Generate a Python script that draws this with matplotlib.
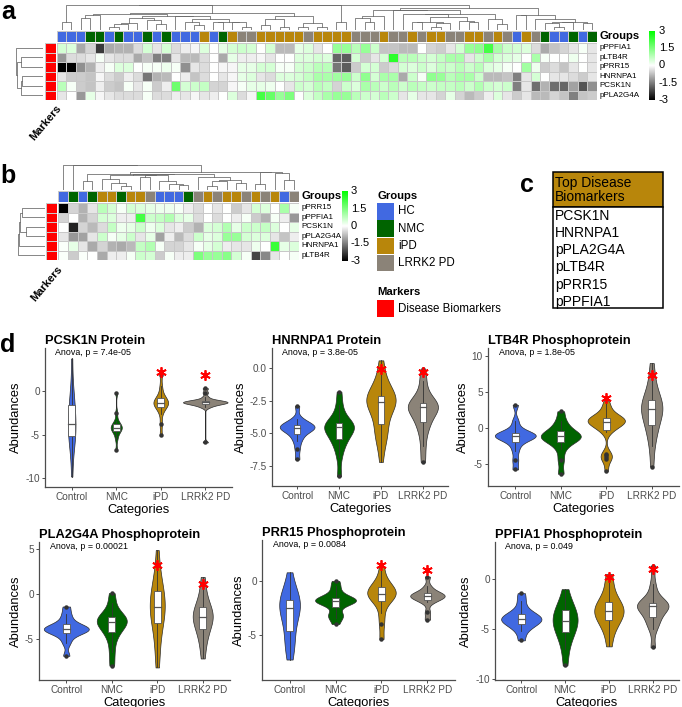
import numpy as np
import matplotlib
matplotlib.use("Agg")
import matplotlib.pyplot as plt
from matplotlib.colors import LinearSegmentedColormap, ListedColormap
from matplotlib.patches import Rectangle

plt.rcParams['font.family'] = ['Liberation Sans', 'DejaVu Sans']

# ---------------- data ----------------
group_names = ["HC", "NMC", "iPD", "LRRK2 PD"]
group_colors = ["#4169E1", "#006400", "#B8860B", "#8B8378"]
group_code = {"B": 0, "G": 1, "A": 2, "R": 3}

# panel a heatmap (57 samples)
groups_a = "BBBGGBGBBGBGBBBABGARRAAAAARAAAARRRARRARAARRAARARBARGBBGBG"
rows_a = ["pPPFIA1", "pLTB4R", "pPRR15", "HNRNPA1", "PCSK1N", "pPLA2G4A"]
a_pPPFIA1 = [0.5, 0.4, -1.0, -0.5, -2.3, -1.0, -0.9, -0.9, -0.4, 0.5, -0.3, 0.5, -0.4, -0.2, -0.1, 0.4, 0.0, 0.3, 0.5, 0.6,
             0.5, 0.0, 0.5, -0.8, -0.8, 0.3, 0.4, -0.3, 0.0, 1.2, 1.2, 0.8, 1.2, 0.6, -0.7, -0.7, -0.8, -0.8, 0.0, -0.5,
             -0.6, -0.3, 0.5, 1.2, 1.3, 2.2, 1.0, 0.6, 0.5, 0.4, -0.4, -1.0, -0.7, -0.5, -0.3, 0.1, -0.3]
a_pLTB4R = [-1.2, -0.4, -0.4, -0.3, 0.1, -0.3, -0.4, -0.4, -1.0, -0.7, -1.5, -1.5, -0.3, -0.8, -0.8, -0.4, 0.0, -1.0, 0.3, -0.2,
            -0.2, -0.1, -0.3, 0.0, 0.0, 0.4, 0.4, 0.5, 0.4, -1.8, -1.9, 0.5, -0.6, -0.3, 0.5, 2.5, 0.8, 0.8, 0.6, 0.5,
            0.7, 1.0, 1.0, -0.3, 0.6, 1.0, 0.5, 0.4, 0.3, 0.0, 1.0, 0.1, 0.0, 0.0, 0.2, 0.0, -0.3]
a_pPRR15 = [-3.0, -3.0, -1.3, -0.9, -0.2, 0.1, 0.4, 0.4, 0.0, 0.1, 0.1, 0.2, 0.1, -1.3, -0.3, -0.4, 0.0, -0.1, -0.1, 0.3,
            0.3, 0.5, 0.5, 0.1, 0.1, 0.5, 0.6, 0.8, 0.8, -1.6, -1.9, -0.6, 0.5, 0.5, -0.6, -0.4, 0.5, 0.4, 0.6, 0.4,
            0.7, 0.6, 0.8, 0.6, 0.8, 0.4, 0.3, 0.1, 0.0, 1.1, 0.2, -0.6, -0.4, -0.7, -0.3, 0.0, -0.3]
a_HNRNPA1 = [-0.3, -0.6, -0.6, -0.7, -0.1, -0.4, -0.6, -0.2, -0.4, -1.6, -0.9, -0.8, 0.0, -0.2, -0.7, -0.4, 0.0, -0.3, -0.1, 0.3,
             0.4, -0.3, -0.4, 0.4, 0.4, 0.5, 0.7, 1.0, 1.0, 1.1, 1.2, 0.6, 1.3, 0.5, 1.0, 1.0, -1.0, 0.6, 0.1, 1.3,
             1.2, 0.8, 1.0, 1.0, 0.6, -0.8, -0.8, -0.7, -1.5, -0.3, 0.5, 0.0, -0.3, -0.3, -0.4, -0.6, -0.3]
a_PCSK1N = [0.8, 0.1, -0.6, -0.7, -0.2, -0.6, -0.7, 0.1, -0.3, 0.1, -0.6, -0.2, 1.7, 0.5, 0.6, 0.7, -0.5, -0.5, -0.1, 0.1,
            0.3, 0.3, 0.2, 0.0, -0.3, 0.6, 0.5, 0.8, 0.7, -0.5, 0.6, 0.4, 1.0, 0.8, 0.6, 0.8, 0.6, 0.8, 0.7, 0.6,
            0.7, 0.7, 0.8, 0.6, 0.9, 0.6, 0.5, 0.6, -1.5, -0.3, -1.7, -0.9, -1.7, -1.8, -1.1, -2.0, -1.3]
a_pPLA2G4A = [-0.3, 0.0, -1.2, 0.3, -0.1, -0.3, -0.4, -0.4, -0.4, 0.1, -0.4, -0.4, -0.2, -0.3, -0.1, -0.3, -0.2, 0.0, 0.4, -0.4,
              -0.1, 2.2, 1.8, 1.2, 1.5, 0.0, 0.4, 0.7, 1.0, 1.2, 1.2, 0.8, 0.6, 0.5, 0.8, 0.6, -0.3, 0.3, -0.3, -0.3,
              -0.5, 0.3, -0.5, -0.8, -0.6, -0.2, 0.4, -0.3, -0.6, -0.3, -0.8, -0.8, -0.5, -0.7, -1.5, -0.7, -0.6]

# panel b heatmap (25 samples)
groups_b = "BGBGAAGAARBBBGRARAARARABR"
rows_b = ["pPRR15", "pPPFIA1", "PCSK1N", "pPLA2G4A", "HNRNPA1", "pLTB4R"]
b_pPRR15 = [-3.0, -0.5, -0.9, -0.3, 0.8, 0.5, 0.1, 0.5, 0.4, 0.3, 0.2, 0.2, 0.1, -0.2, -0.4, 0.0, -0.3, 0.0, -0.6, -0.3,
            0.5, 0.4, 0.0, 1.0, 0.1]
b_pPPFIA1 = [-0.5, 0.0, -0.9, -0.5, 0.5, 0.4, -0.2, -0.2, 2.2, 0.6, 0.7, 0.9, 0.4, 0.3, -0.4, 0.0, -0.4, 0.0, -0.2, 0.1,
             -0.6, -0.9, 0.1, -0.2, -1.2]
b_PCSK1N = [0.0, -2.6, -0.5, -0.8, -0.4, 0.7, 0.2, 0.3, 0.6, 0.2, 0.4, -0.3, -0.2, -0.6, -0.9, 0.4, 0.5, 0.9, 0.3, 0.6,
            0.6, 0.7, 0.4, 0.0, 0.3]
b_pPLA2G4A = [-0.3, -1.2, -1.1, -0.3, 0.6, 0.1, 0.3, 0.6, -0.3, 0.3, -1.1, -0.2, -0.8, -0.4, 0.6, 0.3, 0.4, 1.2, 1.2, 0.5,
              0.4, 0.4, -0.3, -0.7, -0.2]
b_HNRNPA1 = [0.05, 0.3, -0.3, -1.0, -0.5, -0.9, -1.0, -0.8, 0.7, 0.9, 0.1, -0.5, -0.5, -0.3, 0.1, 0.3, 0.5, -0.2, -0.3, -0.3,
             0.2, 0.0, 2.3, 0.3, 0.4]
b_pLTB4R = [0.05, -0.6, 0.05, 0.0, -1.0, -0.2, -0.2, 0.1, 0.6, 0.5, -0.6, 0.1, -0.2, -0.2, 1.5, 1.2, 1.2, 1.4, 0.5, 0.1,
            -2.2, -1.4, -0.3, 0.0, 0.1]

# panel c table
table_title = "Top Disease\nBiomarkers"
table_rows = ["PCSK1N", "HNRNPA1", "pPLA2G4A", "pLTB4R", "pPRR15", "pPPFIA1"]

# panel d violins (per-sample abundances)
categories = ["Control", "NMC", "iPD", "LRRK2 PD"]
pcsk1n = {
    "Control": [-9.8, -7.0, -6.0, -5.3, -5.0, -4.6, -4.2, -3.8, -3.2, -2.6, -1.8, -1.4, -0.8, 0.5, 3.7],
    "NMC": [-6.8, -5.5, -4.9, -4.6, -4.4, -4.3, -4.2, -4.1, -3.9, -3.8, -3.4, -2.5, -0.2],
    "iPD": [-5.1, -3.8, -2.6, -2.0, -1.8, -1.6, -1.5, -1.4, -1.3, -1.1, -0.9, -0.8, -0.3, 0.5, 1.8],
    "LRRK2 PD": [-5.9, -1.9, -1.7, -1.6, -1.5, -1.45, -1.4, -1.35, -1.3, -1.3, -1.25, -1.2, -1.15, -1.1, -1.0, -0.7, -0.2, 0.3],
}
hnrnpa1 = {
    "Control": [-7.0, -6.2, -5.6, -5.3, -5.0, -4.8, -4.7, -4.6, -4.55, -4.5, -4.45, -4.4, -4.3, -4.1, -3.9, -2.9],
    "NMC": [-8.3, -6.8, -6.0, -5.6, -5.4, -5.0, -4.8, -4.6, -4.5, -4.4, -4.35, -4.3, -4.0, -3.5, -2.8, -1.8],
    "iPD": [-7.2, -6.0, -5.3, -5.0, -4.9, -4.6, -4.2, -3.4, -3.0, -2.8, -2.7, -2.6, -2.55, -2.5, -2.45, -2.4, -2.3,
            -2.2, -2.0, -1.8, -1.5, -0.9, -0.3, 0.6],
    "LRRK2 PD": [-7.2, -6.0, -5.0, -4.4, -4.1, -3.8, -3.3, -3.1, -3.0, -2.95, -2.9, -2.8, -2.7, -2.4, -1.8, -1.0, -0.1],
}
ltb4r = {
    "Control": [-5.8, -4.5, -3.2, -2.3, -1.8, -1.5, -1.3, -1.2, -1.1, -1.0, -0.9, -0.8, -0.6, 0.0, 1.0, 3.2],
    "NMC": [-6.4, -4.5, -3.0, -2.1, -1.8, -1.5, -1.3, -1.2, -1.1, -1.0, -0.6, -0.3, 0.3, 1.0, 2.3],
    "iPD": [-6.0, -4.4, -4.1, -3.8, -3.6, -0.6, -0.2, 0.1, 0.3, 0.5, 0.7, 0.8, 0.9, 1.0, 1.05, 1.1, 1.2, 1.3,
            1.4, 1.5, 1.9, 2.4, 3.0, 3.7],
    "LRRK2 PD": [-5.4, -2.5, -1.0, 0.0, 0.5, 1.5, 2.2, 2.5, 2.7, 3.0, 3.3, 3.8, 4.2, 5.5, 6.8, 9.0],
}
pla2g4a = {
    "Control": [-6.9, -5.5, -4.8, -4.4, -4.2, -4.1, -4.0, -3.9, -3.8, -3.7, -3.5, -3.3, -2.8, -2.2, -1.4],
    "NMC": [-8.0, -6.5, -5.2, -4.4, -4.0, -3.6, -3.3, -3.1, -3.0, -2.8, -2.6, -2.5, -2.0, -1.0, 0.1],
    "iPD": [-8.2, -6.5, -5.0, -3.8, -3.1, -2.5, -2.0, -1.6, -1.4, -1.0, -0.3, 0.2, 0.6, 1.5, 2.5, 4.9],
    "LRRK2 PD": [-7.2, -5.8, -4.8, -4.2, -3.8, -3.2, -2.8, -2.6, -2.5, -2.3, -2.0, -1.6, -1.2, -0.5, 0.5, 1.9],
}
prr15 = {
    "Control": [-7.3, -6.0, -5.6, -5.5, -3.8, -3.1, -2.8, -2.5, -2.3, -2.1, -1.9, -1.7, -1.4, -0.8, 0.8],
    "NMC": [-4.0, -3.4, -3.2, -3.0, -2.2, -2.0, -1.95, -1.9, -1.8, -1.75, -1.7, -1.6, -1.5, -1.0, -0.5, 0.0],
    "iPD": [-5.4, -4.0, -3.0, -2.0, -1.8, -1.5, -1.3, -1.2, -1.1, -0.9, -0.7, -0.5, -0.2, 0.3, 1.3],
    "LRRK2 PD": [-3.6, -2.9, -2.0, -1.8, -1.6, -1.5, -1.45, -1.4, -1.3, -1.2, -1.1, -0.9, -0.5, 0.4],
}
ppfia1 = {
    "Control": [-6.1, -5.2, -4.7, -4.5, -4.3, -4.1, -4.0, -3.9, -3.8, -3.6, -3.4, -3.0, -2.2, -1.4],
    "NMC": [-8.6, -7.0, -6.0, -5.4, -5.0, -4.6, -4.3, -4.1, -3.9, -3.5, -3.0, -2.8, -2.3, -1.0],
    "iPD": [-6.7, -5.4, -4.6, -4.3, -3.9, -3.5, -3.3, -3.2, -3.0, -2.7, -2.4, -2.1, -1.5, -0.5, 0.5],
    "LRRK2 PD": [-6.8, -5.0, -4.3, -4.0, -3.5, -3.0, -2.8, -2.7, -2.6, -2.5, -2.4, -2.3, -1.5, -0.5, 1.3],
}
panel_titles = ["PCSK1N Protein", "HNRNPA1 Protein", "LTB4R Phosphoprotein",
                "PLA2G4A Phosphoprotein", "PRR15 Phosphoprotein", "PPFIA1 Phosphoprotein"]
anova_labels = ["Anova, p = 7.4e-05", "Anova, p = 3.8e-05", "Anova, p = 1.8e-05",
                "Anova, p = 0.00021", "Anova, p = 0.0084", "Anova, p = 0.049"]
star_y = [[2.1, 1.8], [-0.1, -0.3], [4.1, 7.3], [3.2, 1.1], [1.5, 1.0], [0.2, 1.0]]
panel_data = [pcsk1n, hnrnpa1, ltb4r, pla2g4a, prr15, ppfia1]

# ---------------- layout / style ----------------
# maximum violin widths (fraction of category spacing) as drawn in the reference
violin_widths = [[0.17, 0.25, 0.33, 1.0], [0.83, 0.71, 0.70, 0.72], [0.90, 0.88, 0.82, 0.47],
                 [0.99, 0.66, 0.33, 0.44], [0.45, 0.89, 0.62, 0.75], [0.92, 0.57, 0.67, 0.72]]
BW_ADJUST = 1.25

W, H = 682, 707
fig = plt.figure(figsize=(W / 100, H / 100), dpi=100)


def ax_px(l, t, r, b):
    return fig.add_axes([l / W, 1 - b / H, (r - l) / W, (b - t) / H])


hm_cmap = LinearSegmentedColormap.from_list("bwg", ["#000000", "#ffffff", "#00ff00"])
grp_cmap = ListedColormap(group_colors)
BORDER = "#c8c8c8"
DENDRO = "#666666"


def linkage_adjacent(X):
    clusters = [([i], i + 0.5, 0.0) for i in range(len(X))]
    links = []
    while len(clusters) > 1:
        best = None
        for k in range(len(clusters) - 1):
            ma, mb = clusters[k][0], clusters[k + 1][0]
            d = np.mean([np.linalg.norm(X[i] - X[j]) for i in ma for j in mb])
            if best is None or d < best[0]:
                best = (d, k)
        d, k = best
        (ma, xa, ha), (mb, xb, hb) = clusters[k], clusters[k + 1]
        h = max(d, ha, hb) + 1e-6
        links.append((xa, ha, xb, hb, h))
        clusters[k:k + 2] = [(ma + mb, (xa + xb) / 2, h)]
    return links


def draw_heatmap(values, groups, row_names, left, top, cw, ch):
    nr, nc = values.shape
    right = left + nc * cw
    bottom = top + nr * ch
    ax = ax_px(left, top, right, bottom)
    ax.pcolormesh(values, cmap=hm_cmap, vmin=-3, vmax=3, edgecolors=BORDER, linewidth=0.4)
    ax.set_xlim(0, nc)
    ax.set_ylim(nr, 0)
    ax.axis("off")
    for i, name in enumerate(row_names):
        ax.text(nc + 0.3, i + 0.5, name, fontsize=5.8, va="center", ha="left")
    gb = ax_px(left, top - 12.5, right, top - 1)
    codes = np.array([[group_code[g] for g in groups]])
    gb.pcolormesh(codes, cmap=grp_cmap, vmin=-0.5, vmax=3.5, edgecolors=BORDER, linewidth=0.4)
    gb.set_xlim(0, nc)
    gb.axis("off")
    gb.text(nc + 0.3, 0.5, "Groups", fontsize=8.1, fontweight="bold", va="center", ha="left")
    mk = ax_px(left - 12.5, top, left - 1, bottom)
    mk.pcolormesh(np.zeros((nr, 1)), cmap=ListedColormap(["#ff0000"]), edgecolors=BORDER, linewidth=0.4)
    mk.set_ylim(nr, 0)
    mk.axis("off")
    # column dendrogram
    cd = ax_px(left, top - 38, right, top - 13)
    links = linkage_adjacent(values.T)
    mh = max(l[4] for l in links)
    for xa, ha, xb, hb, h in links:
        cd.plot([xa, xa, xb, xb], [ha, h, h, hb], color=DENDRO, lw=0.55)
    cd.set_xlim(0, nc)
    cd.set_ylim(0, mh)
    cd.axis("off")
    # row dendrogram
    rd = ax_px(left - 41, top, left - 14, bottom)
    links = linkage_adjacent(values)
    mh = max(l[4] for l in links)
    for ya, ha, yb, hb, h in links:
        rd.plot([-ha, -h, -h, -hb], [ya, ya, yb, yb], color=DENDRO, lw=0.55)
    rd.set_xlim(-mh, 0)
    rd.set_ylim(nr, 0)
    rd.axis("off")
    return right, bottom


def draw_colorbar(l, t, r, b, fs):
    cb = ax_px(l, t, r, b)
    cb.imshow(np.linspace(3, -3, 256)[:, None], aspect="auto", cmap=hm_cmap, vmin=-3, vmax=3,
              extent=(0, 1, -3, 3))
    cb.set_xlim(0, 1)
    cb.set_ylim(-3, 3)
    cb.axis("off")
    for v, s in [(3, "3"), (1.5, "1.5"), (0, "0"), (-1.5, "-1.5"), (-3, "-3")]:
        cb.text(1.6, v, s, fontsize=fs, va="center", ha="left")


# overlay for panel letters, legend and table
ov = ax_px(0, 0, W, H)
ov.set_xlim(0, W)
ov.set_ylim(H, 0)
ov.axis("off")

# ---- panel a ----
mat_a = np.array([a_pPPFIA1, a_pLTB4R, a_pPRR15, a_HNRNPA1, a_PCSK1N, a_pPLA2G4A])
draw_heatmap(mat_a, groups_a, rows_a, 57, 43, 9.47, 9.5)
draw_colorbar(649, 31, 655, 100, 8)
ov.text(56, 103, "Markers", rotation=50, rotation_mode="anchor", ha="right", va="top",
        fontsize=8, fontweight="bold")

# ---- panel b ----
mat_b = np.array([b_pPRR15, b_pPPFIA1, b_PCSK1N, b_pPLA2G4A, b_HNRNPA1, b_pLTB4R])
draw_heatmap(mat_b, groups_b, rows_b, 58.5, 203, 9.6, 9.5)
draw_colorbar(342, 191, 347.5, 261, 8)
ov.text(57, 264, "Markers", rotation=50, rotation_mode="anchor", ha="right", va="top",
        fontsize=8, fontweight="bold")

# legend
ov.text(377, 196, "Groups", fontsize=8.1, fontweight="bold", va="center", ha="left")
for i, (name, col) in enumerate(zip(group_names, group_colors)):
    y0 = 203 + i * 17.3
    ov.add_patch(Rectangle((377, y0), 17, 16.5, facecolor=col, edgecolor="none"))
    ov.text(398, y0 + 8.5, name, fontsize=8.3, va="center", ha="left")
ov.text(377, 292, "Markers", fontsize=8.1, fontweight="bold", va="center", ha="left")
ov.add_patch(Rectangle((377, 300), 17, 16.5, facecolor="#ff0000", edgecolor="none"))
ov.text(398, 308.5, "Disease Biomarkers", fontsize=8.3, va="center", ha="left")

# ---- panel c table ----
ov.add_patch(Rectangle((553, 172), 110, 35, facecolor="#B8860B", edgecolor="black", lw=1.1))
ov.add_patch(Rectangle((553, 207), 110, 101, facecolor="white", edgecolor="black", lw=1.1))
ov.text(555, 190, table_title, fontsize=10, va="center", ha="left", linespacing=1.05)
for i, name in enumerate(table_rows):
    ov.text(555, 215.5 + i * 17.3, name, fontsize=10, va="center", ha="left")

# panel letters
for s, x, y in [("a", 8, 12), ("b", 8, 176), ("c", 527, 185), ("d", 8, 345)]:
    ov.text(x, y, s, fontsize=18, fontweight="bold", va="center", ha="center")

# ---- panel d violins ----
violin_colors = ["#4169E1", "#006400", "#B8860B", "#8B8378"]
boxes = [(45, 348, 232, 487), (272, 348, 448, 486), (488, 348, 679, 486),
         (39, 542, 230, 680), (262, 540, 455, 680), (495, 542, 679, 680)]
yticks = [([-10, -5, 0], ["-10", "-5", "0"]),
          ([-7.5, -5.0, -2.5, 0.0], ["-7.5", "-5.0", "-2.5", "0.0"]),
          ([-5, 0, 5, 10], ["-5", "0", "5", "10"]),
          ([-5, 0, 5], ["-5", "0", "5"]),
          ([-5, 0], ["-5", "0"]),
          ([-10, -5, 0], ["-10", "-5", "0"])]
ylims = [(-11, 4.9), (-9.05, 1.55), (-8.1, 11.1), (-9.6, 5.8), (-9.2, 3.8), (-10.05, 3.7)]


def kde_nrd0(data, grid):
    d = np.asarray(data, float)
    n = d.size
    sd = d.std(ddof=1)
    q1, q3 = np.percentile(d, [25, 75])
    lo = min(sd, (q3 - q1) / 1.34)
    if lo <= 0:
        lo = sd
    bw = BW_ADJUST * 0.9 * lo * n ** -0.2
    z = (grid[:, None] - d[None, :]) / bw
    return np.exp(-0.5 * z ** 2).sum(1) / (n * bw * np.sqrt(2 * np.pi))


for p in range(6):
    ax = ax_px(*boxes[p])
    data = panel_data[p]
    for i, cat in enumerate(categories):
        x = i + 1
        d = np.asarray(data[cat], float)
        g = np.linspace(d.min(), d.max(), 300)
        dens = kde_nrd0(d, g)
        half = 0.5 * violin_widths[p][i] * dens / dens.max()
        ax.fill_betweenx(g, x - half, x + half, facecolor=violin_colors[i],
                         edgecolor="#2b2b2b", lw=0.5, zorder=2)
        q1, med, q3 = np.percentile(d, [25, 50, 75])
        iqr = q3 - q1
        lo_w = d[d >= q1 - 1.5 * iqr].min()
        hi_w = d[d <= q3 + 1.5 * iqr].max()
        ax.plot([x, x], [lo_w, q1], color="#333333", lw=0.6, zorder=3)
        ax.plot([x, x], [q3, hi_w], color="#333333", lw=0.6, zorder=3)
        bw = 0.16
        ax.add_patch(Rectangle((x - bw / 2, q1), bw, q3 - q1, facecolor="white",
                               edgecolor="#555555", lw=0.6, zorder=4))
        ax.plot([x - bw / 2, x + bw / 2], [med, med], color="#555555", lw=0.9, zorder=5)
        out = d[(d < lo_w) | (d > hi_w)]
        ax.plot(np.full(out.size, x), out, "o", ms=2.2, color="#333333", zorder=5)
    ax.plot([3, 4], star_y[p], ls="none", marker=(6, 2, 0), ms=7.5, mew=1.3, color="#ff0000", zorder=6)
    ax.set_xlim(0.4, 4.6)
    ax.set_ylim(*ylims[p])
    ax.set_xticks([1, 2, 3, 4])
    ax.set_xticklabels(categories)
    ax.set_yticks(yticks[p][0])
    ax.set_yticklabels(yticks[p][1])
    ax.tick_params(colors="#4D4D4D", labelsize=7.2, length=2.2, width=0.7, pad=1.5)
    for s in ["top", "right"]:
        ax.spines[s].set_visible(False)
    for s in ["left", "bottom"]:
        ax.spines[s].set_color("#4D4D4D")
        ax.spines[s].set_linewidth(0.9)
    ax.set_ylabel("Abundances", fontsize=9.3, labelpad=2)
    ax.set_xlabel("Categories", fontsize=9.3, labelpad=1)
    ax.set_title(panel_titles[p], loc="left", fontsize=9.3, fontweight="bold", pad=3)
    ax.text(0.055, 0.965, anova_labels[p], transform=ax.transAxes, fontsize=6.4, va="center", ha="left")

fig.savefig("out.png", dpi=100)
